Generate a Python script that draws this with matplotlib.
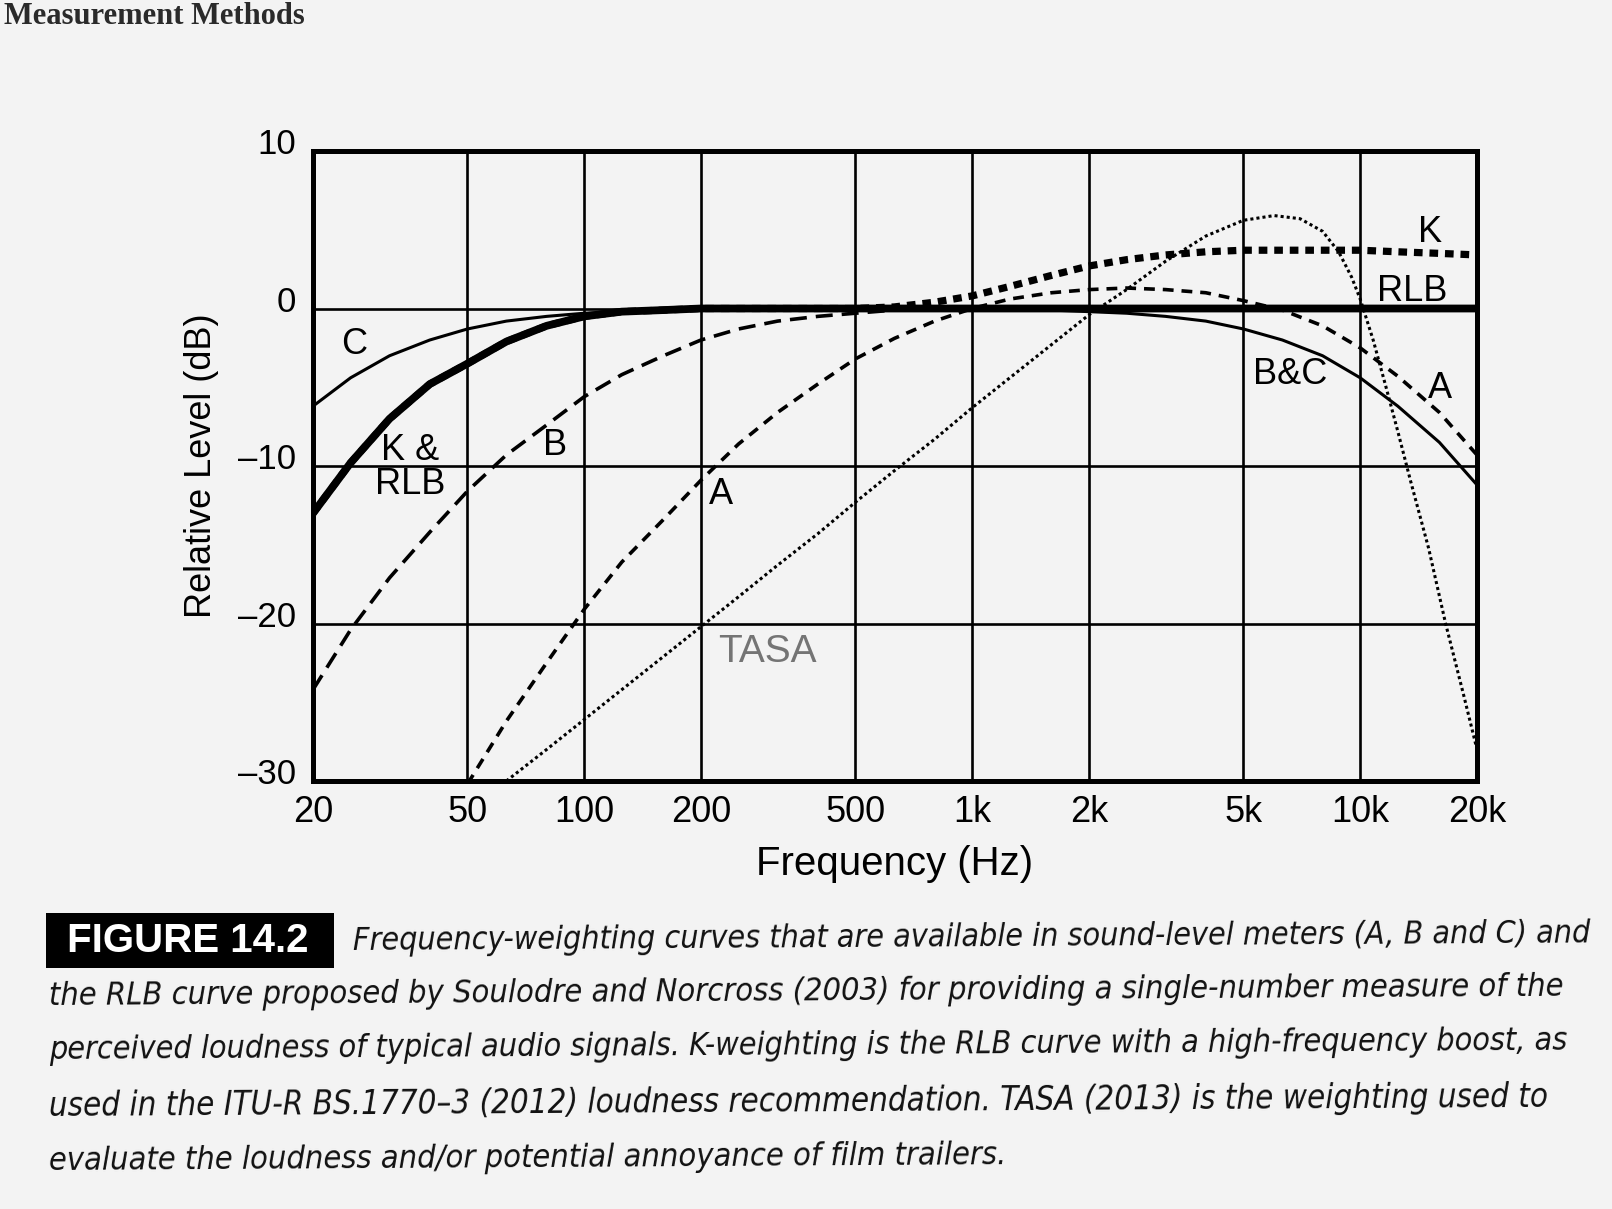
import numpy as np
import matplotlib
matplotlib.use('Agg')
from matplotlib import pyplot as plt
from matplotlib import font_manager
from matplotlib.patches import Rectangle
import matplotlib.transforms as mtransforms

# 1/3-octave centre frequencies (Hz)
freq = [20, 25, 31.5, 40, 50, 63, 80, 100, 125, 160, 200, 250, 315, 400, 500, 630,
        800, 1000, 1250, 1600, 2000, 2500, 3150, 4000, 5000, 6300, 8000, 10000,
        12500, 16000, 20000]

# curves (dB)
rlb_db = [-13.0, -9.8, -7.0, -4.8, -3.5, -2.1, -1.1, -0.5, -0.2, -0.1, 0, 0, 0, 0, 0, 0,
          0, 0, 0, 0, 0, 0, 0, 0, 0, 0, 0, 0, 0, 0, 0]
k_db = [-13.0, -9.8, -7.0, -4.8, -3.5, -2.1, -1.1, -0.5, -0.2, -0.1, 0, 0, 0, 0, 0, 0.1,
        0.4, 0.8, 1.4, 2.1, 2.7, 3.1, 3.4, 3.6, 3.7, 3.7, 3.7, 3.7, 3.6, 3.5, 3.4]
c_db = [-6.2, -4.4, -3.0, -2.0, -1.3, -0.8, -0.5, -0.3, -0.2, -0.1, 0, 0, 0, 0, 0, 0,
        0, 0, 0, -0.1, -0.2, -0.3, -0.5, -0.8, -1.3, -2.0, -3.0, -4.4, -6.2, -8.5, -11.2]

b_freq = [20, 25, 31.5, 40, 50, 63, 80, 100, 125, 160, 200, 250, 315, 400, 500, 630, 800, 1000]
b_db = [-24.2, -20.4, -17.1, -14.2, -11.6, -9.3, -7.4, -5.6, -4.2, -3.0, -2.0, -1.3,
        -0.8, -0.5, -0.3, -0.1, 0.0, 0.0]

a_freq = [50, 63, 80, 100, 125, 160, 200, 250, 315, 400, 500, 630, 800, 1000, 1250, 1600,
          2000, 2500, 3150, 4000, 5000, 6300, 8000, 10000, 12500, 16000, 20000]
a_db = [-30.2, -26.2, -22.5, -19.1, -16.1, -13.4, -10.9, -8.6, -6.6, -4.8, -3.2, -1.9,
        -0.8, 0, 0.6, 1.0, 1.2, 1.3, 1.2, 1.0, 0.5, -0.1, -1.1, -2.5, -4.3, -6.6, -9.3]

tasa_freq = [63, 80, 100, 125, 160, 200, 250, 315, 400, 500, 630, 800, 1000, 1250, 1600,
             2000, 2500, 3150, 4000, 5000, 6000, 7000, 8000, 8800, 9500, 10000, 10800,
             11600, 12500, 13500, 15000, 16600, 18500, 20000]
tasa_db = [-30.0, -28.0, -26.1, -24.2, -22.1, -20.2, -18.3, -16.3, -14.3, -12.3, -10.3,
           -8.3, -6.3, -4.4, -2.3, -0.4, 1.2, 3.0, 4.6, 5.6, 5.9, 5.7, 4.9, 3.6, 2.0, 0.6,
           -2.0, -4.8, -7.8, -11.0, -15.2, -20.0, -24.6, -28.0]

tick_freq = [20, 50, 100, 200, 500, 1000, 2000, 5000, 10000, 20000]
tick_text = ['20', '50', '100', '200', '500', '1k', '2k', '5k', '10k', '20k']
level_ticks = [-30, -20, -10, 0, 10]
level_text = ['\u201330', '\u201320', '\u201310', '0', '10']

caption = ['Frequency-weighting curves that are available in sound-level meters (A, B and C) and',
           'the RLB curve proposed by Soulodre and Norcross (2003) for providing a single-number measure of the',
           'perceived loudness of typical audio signals. K-weighting is the RLB curve with a high-frequency boost, as',
           'used in the ITU-R BS.1770\u20133 (2012) loudness recommendation. TASA (2013) is the weighting used to',
           'evaluate the loudness and/or potential annoyance of film trailers.']

W, H = 1612, 1209
plt.rcParams['font.family'] = ['Liberation Sans', 'DejaVu Sans']

fig = plt.figure(figsize=(W / 100, H / 100), dpi=100, facecolor='#f3f3f3')
ax = fig.add_axes([313 / W, 1 - 781 / H, (1477 - 313) / W, (781 - 151) / H])
ax.set_facecolor('none')

ax.plot(freq, rlb_db, color='black', lw=5.6, solid_capstyle='butt', zorder=3)
ax.plot(freq, k_db, color='black', lw=5.2, linestyle=(0, (1.2, 0.95)), zorder=4)
ax.plot(freq, c_db, color='black', lw=2.2, zorder=3)
ax.plot(b_freq, b_db, color='black', lw=2.6, linestyle=(0, (4.7, 2.5)), zorder=3)
ax.plot(a_freq, a_db, color='black', lw=2.6, linestyle=(0, (3.0, 2.2)), zorder=3)
ax.plot(tasa_freq, tasa_db, color='black', lw=2.2, linestyle=(0, (1, 1)), zorder=3)

ax.set_xscale('log')
ax.set_xlim(20, 20000)
ax.set_ylim(-30, 10)
ax.set_xticks(tick_freq)
ax.set_xticklabels(tick_text)
ax.xaxis.set_minor_locator(matplotlib.ticker.NullLocator())
ax.set_yticks(level_ticks)
ax.set_yticklabels(level_text)
ax.grid(True, color='black', lw=1.9)
ax.set_axisbelow(True)
for s in ax.spines.values():
    s.set_linewidth(3.6)
ax.tick_params(length=0, labelsize=25)
ax.tick_params(axis='x', pad=10, labelsize=26)
ax.tick_params(axis='y', pad=12)
for lbl in ax.get_yticklabels():
    lbl.set_transform(lbl.get_transform() + mtransforms.ScaledTranslation(0, 7 / 72, fig.dpi_scale_trans))

ax.set_xlabel('Frequency (Hz)', fontsize=29, labelpad=11)
ax.set_ylabel('Relative Level (dB)', fontsize=26)
ax.yaxis.set_label_coords(-0.081, 0.5)

# curve labels
lab = dict(fontsize=26, ha='center', va='center', zorder=5)
ax.text(25.6, -2.3, 'C', **lab)
ax.text(35.6, -10.1, 'K &\nRLB', linespacing=0.95, **lab)
ax.text(84, -8.7, 'B', **lab)
ax.text(225, -11.8, 'A', **lab)
ax.text(222, -21.8, 'TASA', fontsize=28, ha='left', va='center', color='#747474')
ax.text(15100, 4.8, 'K', **lab)
ax.text(13600, 1.1, 'RLB', **lab)
ax.text(6600, -4.2, 'B&C', **lab)
ax.text(16100, -5.1, 'A', **lab)

# page header (cut by the scan in the source)
fig.text(4 / W, 1 - 24 / H, 'Measurement Methods', fontsize=22, family='Liberation Serif',
         weight='bold', color='#2a2a2a', va='baseline', ha='left')

# caption
fig.add_artist(Rectangle((46 / W, 1 - 968 / H), (334 - 46) / W, (968 - 913) / H,
                         transform=fig.transFigure, facecolor='black', edgecolor='none'))
fig.text(188 / W, 1 - 941 / H, 'FIGURE 14.2', fontsize=29, weight='bold', color='white',
         ha='center', va='center')

names = {f.name for f in font_manager.fontManager.ttflist}
cap_kw = {'family': 'Liberation Sans'}
if 'Liberation Sans Narrow' in names:
    cap_kw = {'family': 'Liberation Sans Narrow'}
elif any(f.name == 'DejaVu Sans' and f.stretch == 'condensed' for f in font_manager.fontManager.ttflist):
    cap_kw = {'family': 'DejaVu Sans', 'stretch': 'condensed'}

cap_left = [353, 49, 49, 49, 49]
cap_right = [1590, 1564, 1572, 1549, None]
cap_y = [942, 997, 1051, 1107, 1162]
texts = []
for s, x0, yc in zip(caption, cap_left, cap_y):
    t = fig.text(x0 / W, 1 - yc / H, s, fontsize=24, style='italic', ha='left', va='center',
                 color='#111111', **cap_kw)
    texts.append(t)
fig.canvas.draw()
r = fig.canvas.get_renderer()
sizes = []
for t, x0, x1 in zip(texts, cap_left, cap_right):
    if x1 is None:
        continue
    w = t.get_window_extent(renderer=r).width
    sizes.append(24 * (x1 - x0) / w)
for i, t in enumerate(texts):
    t.set_fontsize(sizes[i] if i < len(sizes) else np.mean(sizes))
    t.set_rotation(0.35)
    t.set_rotation_mode('anchor')

fig.savefig('out.png', dpi=100, facecolor=fig.get_facecolor())
plt.close()
